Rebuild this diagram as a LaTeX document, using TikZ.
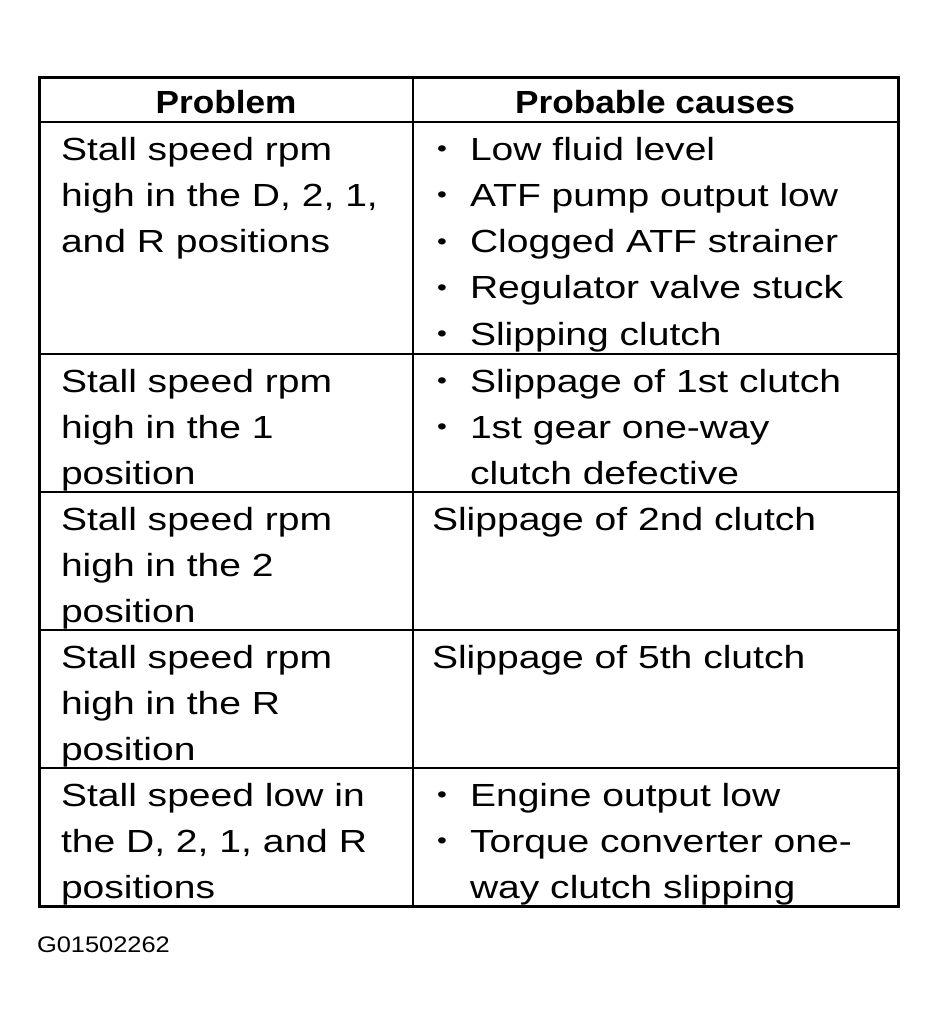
\documentclass[tikz,border=0pt]{standalone}
\usepackage{fontspec}
\setmainfont{Liberation Sans}[FakeStretch=1.22,BoldFeatures={FakeStretch=1.1}]
\newfontfamily\figfont{Liberation Sans}[FakeStretch=1.13]

\begin{document}
\begin{tikzpicture}[x=1pt, y=-1pt,
		every node/.style={inner sep=0pt, outer sep=0pt, font=\fontsize{32}{46.3}\selectfont},
		cell/.style={anchor=base west, align=left},
		head/.style={anchor=base, font=\fontsize{32}{46.3}\selectfont\bfseries},
		dot/.style={anchor=base, yshift=3.5pt, font=\fontsize{23}{23}\selectfont},
		frame/.style={line width=3pt},
		rule/.style={line width=2pt}]
		\useasboundingbox (0,0) rectangle (937,1028);

		%––––– grid –––––
		\coordinate (tl) at (39.5,77.5);
		\coordinate (br) at (898.5,906.5);
		\coordinate (mt) at (413,77.5);
		\coordinate (mb) at (413,906.5);
		\draw[rule] (mt) -- (mb);
		\draw[rule] (39.5,122) -- (898.5,122);
		\draw[rule] (39.5,354) -- (898.5,354);
		\draw[rule] (39.5,492) -- (898.5,492);
		\draw[rule] (39.5,630) -- (898.5,630);
		\draw[rule] (39.5,768) -- (898.5,768);
		\draw[frame] (tl) rectangle (br);

		%––––– header –––––
		\node[head] (h1) at (226,113) {Problem};
		\node[head] (h2) at (655,113) {Probable causes};

		%––––– row 1 –––––
		% multi-line cells sit on the baseline of their last line
		\node[cell] (p1) at (61,252.6) {Stall speed rpm\\high in the D, 2, 1,\\and R positions};
		\node[dot] (d11) at (442,160) {\textbullet};
		\node[cell] (c11) at (470,160) {Low fluid level};
		\node[dot] (d12) at (442,206.3) {\textbullet};
		\node[cell] (c12) at (470,206.3) {ATF pump output low};
		\node[dot] (d13) at (442,252.6) {\textbullet};
		\node[cell] (c13) at (470,252.6) {Clogged ATF strainer};
		\node[dot] (d14) at (442,298.9) {\textbullet};
		\node[cell] (c14) at (470,298.9) {Regulator valve stuck};
		\node[dot] (d15) at (442,345.2) {\textbullet};
		\node[cell] (c15) at (470,345.2) {Slipping clutch};

		%––––– row 2 –––––
		\node[cell] (p2) at (61,484.6) {Stall speed rpm\\high in the 1\\position};
		\node[dot] (d21) at (442,392) {\textbullet};
		\node[cell] (c21) at (470,392) {Slippage of 1st clutch};
		\node[dot] (d22) at (442,438.3) {\textbullet};
		\node[cell] (c22) at (470,484.6) {1st gear one-way\\clutch defective};

		%––––– row 3 –––––
		\node[cell] (p3) at (61,622.6) {Stall speed rpm\\high in the 2\\position};
		\node[cell] (c31) at (432,530) {Slippage of 2nd clutch};

		%––––– row 4 –––––
		\node[cell] (p4) at (61,760.6) {Stall speed rpm\\high in the R\\position};
		\node[cell] (c41) at (432,668) {Slippage of 5th clutch};

		%––––– row 5 –––––
		\node[cell] (p5) at (61,898.6) {Stall speed low in\\the D, 2, 1, and R\\positions};
		\node[dot] (d51) at (442,806) {\textbullet};
		\node[cell] (c51) at (470,806) {Engine output low};
		\node[dot] (d52) at (442,852.3) {\textbullet};
		\node[cell] (c52) at (470,898.6) {Torque converter one-\\way clutch slipping};

		%––––– figure code –––––
		\node[anchor=base west, font=\figfont\fontsize{22.5}{24}\selectfont] (fig) at (37,952) {G01502262};
	\end{tikzpicture}
\end{document}
